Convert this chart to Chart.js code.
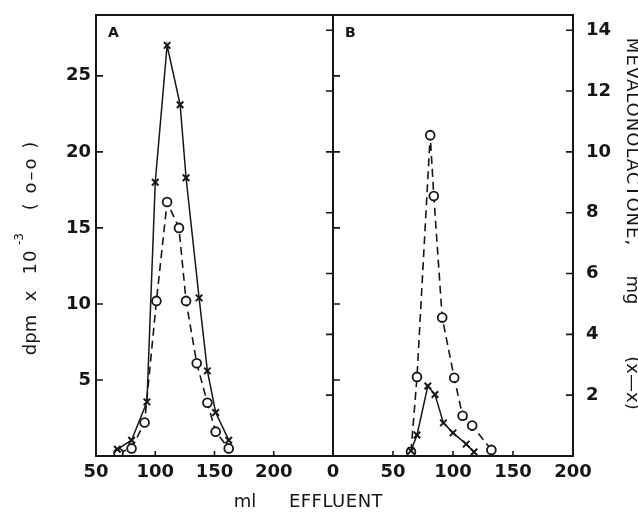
<!DOCTYPE html>
<html>
<head>
<meta charset="utf-8">
<script src="https://cdn.jsdelivr.net/npm/chart.js@4"></script>
<style>
  body { margin: 0; background: #fff; }
  #wrap { position: relative; width: 638px; height: 513px; overflow: hidden; background: #fff; }
  #wrap canvas { position: absolute; left: 0; top: 0; }
</style>
</head>
<body>
<div id="wrap">
  <canvas id="panelA" width="638" height="513"></canvas>
  <canvas id="panelB" width="638" height="513"></canvas>
</div>
<script>
// Panel A: effluent ml vs dpm x 10^-3 (o--o) and mevalonolactone mg (x--x)
const aDpmMl = [69, 80, 91, 101, 110, 120, 126, 135, 144, 151, 162];
const aDpm   = [0.2, 0.5, 2.2, 10.2, 16.7, 15.0, 10.2, 6.1, 3.5, 1.6, 0.5];
const aMgMl  = [68, 80, 93, 100, 110, 121, 126, 137, 144, 151, 162];
const aMg    = [0.22, 0.52, 1.78, 9.0, 13.5, 11.55, 9.15, 5.2, 2.8, 1.43, 0.52];

// Panel B
const bDpmMl = [65, 70, 81, 84, 91, 101, 108, 116, 132];
const bDpm   = [0.28, 5.2, 21.1, 17.1, 9.1, 5.15, 2.65, 2.0, 0.4];
const bMgMl  = [65, 70, 79, 85, 92, 100, 111, 117.5];
const bMg    = [0.17, 0.69, 2.3, 2.02, 1.09, 0.76, 0.39, 0.13];

// tick labels
const dpmTicks = [5, 10, 15, 20, 25];
const mgTicks = [2, 4, 6, 8, 10, 12, 14];
const aMlTicks = [50, 100, 150, 200];
const bMlTicks = [0, 50, 100, 150, 200];

const INK = '#161616';
const tickFont = { family: '"DejaVu Sans"', size: 18, weight: 'bold' };
const titleFont = '18px "DejaVu Sans"';

const pts = (xs, ys) => xs.map((x, i) => ({ x: x, y: ys[i] }));
const setTicks = list => scale => { scale.ticks = list.map(v => ({ value: v })); };

function circleSet(data) {
  return {
    data: data, yAxisID: 'y', order: 1,
    borderColor: INK, borderWidth: 1.6, borderDash: [8, 5],
    pointStyle: 'circle', pointRadius: 4.4, pointBorderWidth: 1.8,
    pointBackgroundColor: '#fff', pointBorderColor: INK,
    tension: 0, fill: false
  };
}

function crossSet(data) {
  return {
    data: data, yAxisID: 'y2', order: 0,
    borderColor: INK, borderWidth: 1.5,
    pointStyle: 'crossRot', pointRadius: 4.6, pointBorderWidth: 2,
    pointBorderColor: INK, tension: 0, fill: false
  };
}

/**
 * Frame, inward tick marks and panel letter
 */
const framePlugin = {
  id: 'frame',
  afterDatasetsDraw(chart, args, opts) {
    const { ctx, chartArea: a, scales } = chart;
    ctx.save();
    ctx.strokeStyle = INK;
    ctx.lineWidth = 1.6;
    ctx.beginPath();
    opts.mlTicks.forEach(v => {
      const px = scales.x.getPixelForValue(v);
      if (px > a.left + 2 && px < a.right - 2) {
        ctx.moveTo(px, a.bottom);
        ctx.lineTo(px, a.bottom - 5);
      }
    });
    dpmTicks.forEach(v => {
      const py = scales.y.getPixelForValue(v);
      ctx.moveTo(a.left, py);
      ctx.lineTo(a.left + 7, py);
    });
    mgTicks.forEach(v => {
      const py = scales.y2.getPixelForValue(v);
      ctx.moveTo(a.right, py);
      ctx.lineTo(a.right - 7, py);
    });
    ctx.stroke();
    ctx.lineWidth = 2;
    ctx.strokeRect(a.left, a.top, a.right - a.left, a.bottom - a.top);
    ctx.fillStyle = INK;
    ctx.font = 'bold 14px "DejaVu Sans"';
    ctx.textBaseline = 'alphabetic';
    ctx.fillText(opts.letter, a.left + 12, a.top + 22);
    ctx.restore();
  }
};

/**
 * Axis titles, drawn piece by piece as in the original lettering
 */
const titlesPlugin = {
  id: 'titles',
  afterDraw(chart) {
    const ctx = chart.ctx;
    const put = (text, x, y, angle, font, spacing) => {
      ctx.save();
      ctx.translate(x, y);
      ctx.rotate(angle);
      ctx.font = font || titleFont;
      ctx.letterSpacing = spacing || '0px';
      ctx.fillStyle = INK;
      ctx.textAlign = 'center';
      ctx.textBaseline = 'middle';
      ctx.fillText(text, 0, 0);
      ctx.restore();
    };
    const up = -Math.PI / 2;
    const down = Math.PI / 2;
    put('dpm', 31, 335, up);
    put('x', 31, 296, up);
    put('10', 31, 262, up, null, '1px');
    put('-3', 20, 239, up, '12px "DejaVu Sans"');
    put('( o–o )', 31, 175, up, null, '2px');
    put('MEVALONOLACTONE,', 632, 142, down, null, '1px');
    put('mg', 632, 290, down);
    put('(x—x)', 632, 383, down);
    put('ml', 245, 502, 0);
    put('EFFLUENT', 336, 502, 0, null, '0.5px');
  }
};

function axisBase() {
  return {
    grid: { display: false, drawTicks: false },
    border: { display: false },
    ticks: { autoSkip: false, maxRotation: 0, color: INK, font: tickFont }
  };
}

// fixed box sizes; label overhang must not push the plot area
function fixBox(size) {
  return scale => {
    if (scale.isHorizontal()) {
      scale.height = size;
    } else {
      scale.width = size;
    }
    scale.paddingTop = 0;
    scale.paddingBottom = 0;
    scale.paddingLeft = 0;
    scale.paddingRight = 0;
  };
}

function makeScales(panel) {
  const x = axisBase();
  x.type = 'linear';
  x.min = panel === 'A' ? 50 : 0;
  x.max = panel === 'A' ? 250 : 200;
  x.afterBuildTicks = setTicks(panel === 'A' ? aMlTicks : bMlTicks);
  x.afterFit = fixBox(57);
  x.ticks.padding = 6;

  const y = axisBase();
  y.position = 'left';
  y.min = 0;
  y.max = 29;
  y.afterBuildTicks = setTicks(dpmTicks);
  y.ticks.padding = 5;
  if (panel === 'A') {
    y.afterFit = fixBox(96);
  } else {
    y.display = false;
  }

  const y2 = axisBase();
  y2.position = 'right';
  y2.min = 0;
  y2.max = 14.5;
  y2.afterBuildTicks = setTicks(mgTicks);
  y2.ticks.padding = 13;
  if (panel === 'B') {
    y2.afterFit = fixBox(65);
  } else {
    y2.display = false;
  }
  return { x: x, y: y, y2: y2 };
}

function makeChart(id, panel, dpmData, mgData, padding, plugins) {
  return new Chart(document.getElementById(id), {
    type: 'line',
    data: { datasets: [circleSet(dpmData), crossSet(mgData)] },
    options: {
      responsive: false,
      animation: false,
      devicePixelRatio: 1,
      layout: { padding: padding },
      scales: makeScales(panel),
      plugins: {
        legend: { display: false },
        tooltip: { enabled: false },
        frame: { letter: panel, mlTicks: panel === 'A' ? aMlTicks : bMlTicks }
      }
    },
    plugins: plugins
  });
}

makeChart('panelA', 'A', pts(aDpmMl, aDpm), pts(aMgMl, aMg),
  { left: 0, right: 305, top: 15, bottom: 0 }, [framePlugin, titlesPlugin]);
makeChart('panelB', 'B', pts(bDpmMl, bDpm), pts(bMgMl, bMg),
  { left: 333, right: 0, top: 15, bottom: 0 }, [framePlugin]);
</script>
</body>
</html>
